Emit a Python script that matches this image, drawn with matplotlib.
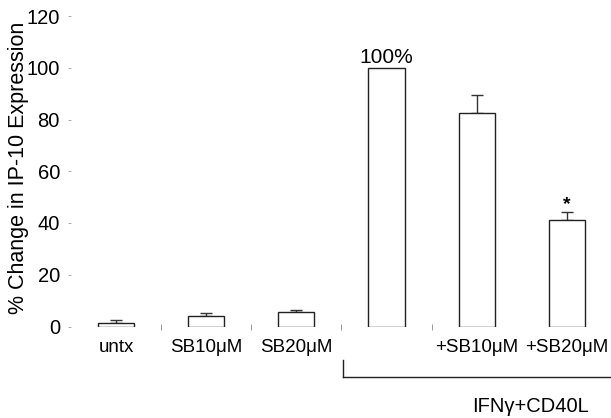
import matplotlib
matplotlib.use("Agg")
import matplotlib.pyplot as plt
from matplotlib.lines import Line2D

plt.rcParams['font.family'] = ['Liberation Sans', 'DejaVu Sans']

categories = ["untx", "SB10\u03bcM", "SB20\u03bcM", "", "+SB10\u03bcM", "+SB20\u03bcM"]
values = [1.5, 4.2, 5.5, 100, 82.6, 41.2]
errors = [1.0, 1.1, 1.0, 0, 6.7, 3.0]
yticks = [0, 20, 40, 60, 80, 100, 120]
group_label = "IFN\u03b3+CD40L"

W, H = 611, 418
fig = plt.figure(figsize=(W / 100, H / 100), dpi=100)
ax = fig.add_axes([71 / W, (H - 326.5) / H, 540 / W, (326.5 - 16) / H])

x = list(range(len(categories)))
ax.bar(x, values, width=0.40, color="white", edgecolor="#222222", linewidth=1.0, zorder=2)
for xi, v, e in zip(x, values, errors):
    if e > 0:
        ax.errorbar([xi], [v], yerr=[[0], [e]], fmt="none", ecolor="#333333",
                    elinewidth=1.0, capsize=4, capthick=1.0, zorder=1)

ax.set_xlim(-0.5, 5.49)
ax.set_ylim(0, 120)
for s in ax.spines.values():
    s.set_visible(False)

ax.set_yticks(yticks)
ax.set_yticklabels([str(t) for t in yticks], fontsize=14.5)
ax.tick_params(axis="y", length=2, width=0.6, color="#999999", pad=6)

ax.set_xticks(x)
ax.set_xticklabels(categories, fontsize=13.5)
ax.tick_params(axis="x", which="major", length=0, pad=9)
ax.set_xticks([0.5, 1.5, 2.5, 3.5], minor=True)
ax.tick_params(axis="x", which="minor", length=4, width=0.6, color="#888888", direction="inout")

fig.text(19 / W, (H - 168) / H, "% Change in IP-10 Expression", rotation=90,
         ha="center", va="center", fontsize=15.5)

ax.text(3, 100.3, "100%", ha="center", va="bottom", fontsize=15)
ax.text(5, values[5] + errors[5] + 3.0, "*", ha="center", va="center",
        fontsize=14, fontweight="bold")

# bracket for group
x0 = 343 / W
yb = (H - 377) / H
yt = (H - 360) / H
fig.add_artist(Line2D([x0, x0], [yt, yb], color="#222222", linewidth=1.0))
fig.add_artist(Line2D([x0, 1.0], [yb, yb], color="#222222", linewidth=1.0))
fig.text(530 / W, (H - 407) / H, group_label, ha="center", va="center", fontsize=14.5)

fig.savefig("out.png", dpi=100)
